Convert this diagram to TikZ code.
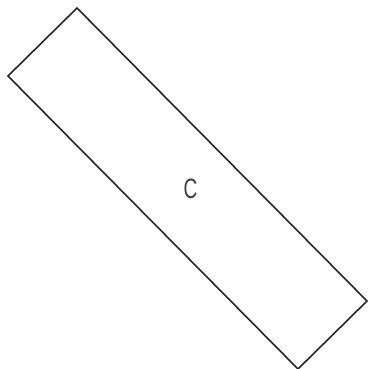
\documentclass[tikz,border=0pt]{standalone}
\usepackage{fontspec}
\setmainfont{Liberation Sans}
\begin{document}
\begin{tikzpicture}[x=1pt,y=-1pt,
  boxline/.style={draw=black!85,line width=1.6pt,line join=miter},
  lbl/.style={font=\fontsize{28}{30}\selectfont,text=black!75,xscale=0.68,inner sep=0pt}]
\useasboundingbox (0,0) rectangle (368,369);
\coordinate (t) at (77,8);
\coordinate (l) at (8,76);
\coordinate (b) at (298,369);
\coordinate (r) at (367,301);
\draw[boxline] (t) -- (l) -- (b) -- (r) -- cycle;
\node[lbl] (c) at (190.5,189) {C};
\end{tikzpicture}
\end{document}
